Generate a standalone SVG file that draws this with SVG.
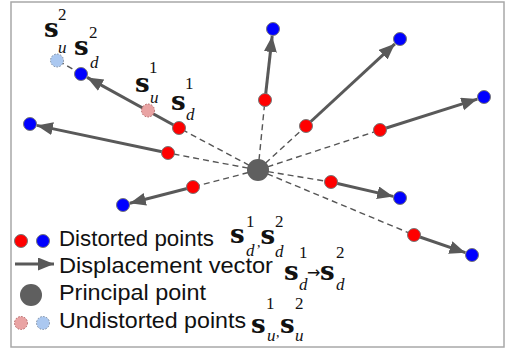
<svg xmlns="http://www.w3.org/2000/svg" width="508" height="352" viewBox="0 0 508 352">
<defs>
<marker id="ah" markerUnits="userSpaceOnUse" markerWidth="18" markerHeight="14" refX="16" refY="6.5" orient="auto">
<path d="M0,0 L16,6.5 L0,13 z" fill="#595959"/>
</marker>
<style>
.dash{stroke:#555;stroke-width:1.4;stroke-dasharray:6,4;fill:none}
.arr{stroke:#595959;stroke-width:3;fill:none;marker-end:url(#ah)}
.red{fill:#ff0000;stroke:#777;stroke-width:1}
.blue{fill:#0000ff;stroke:#777;stroke-width:1}
.pink{fill:#e9a3a3;stroke:#b06060;stroke-width:1;stroke-dasharray:1.5,1.5}
.lblue{fill:#abc8f0;stroke:#7a8aa0;stroke-width:1;stroke-dasharray:1.5,1.5}
.pp{fill:#5f5f5f}
.leg{font-family:"Liberation Sans",Arial,sans-serif;font-size:22.5px;fill:#111}
.s{font-family:"DejaVu Serif",serif;font-weight:bold;font-size:26px;fill:#111}
.n{font-family:"Liberation Serif",serif;font-size:17px;fill:#111}
.i{font-family:"Liberation Serif",serif;font-style:italic;font-size:17px;fill:#111}
.c{font-family:"Liberation Serif",serif;font-size:14px;fill:#111}
</style>
</defs>
<rect x="11" y="2" width="493" height="345" fill="#fff" stroke="#a8a8a8" stroke-width="1.5"/>
<g id="connectors">
<line class="dash" x1="258" y1="170" x2="179" y2="128"/>
<line class="dash" x1="258" y1="170" x2="168" y2="153"/>
<line class="dash" x1="258" y1="170" x2="265" y2="100"/>
<line class="dash" x1="258" y1="170" x2="306" y2="126"/>
<line class="dash" x1="258" y1="170" x2="380" y2="130"/>
<line class="dash" x1="258" y1="170" x2="193" y2="187"/>
<line class="dash" x1="258" y1="170" x2="331" y2="182"/>
<line class="dash" x1="258" y1="170" x2="414" y2="235"/>
<line class="dash" x1="81" y1="74" x2="57" y2="60"/>
<line class="arr" x1="179" y1="128" x2="87.1" y2="77.4"/>
<line class="arr" x1="168" y1="153" x2="36.9" y2="125.4"/>
<line class="arr" x1="265" y1="100" x2="272.2" y2="36"/>
<line class="arr" x1="306" y1="126" x2="394.9" y2="43.8"/>
<line class="arr" x1="380" y1="130" x2="477.3" y2="99.1"/>
<line class="arr" x1="193" y1="187" x2="129.8" y2="203.3"/>
<line class="arr" x1="331" y1="182" x2="393.2" y2="196.4"/>
<line class="arr" x1="414" y1="235" x2="465.4" y2="252.7"/>
</g>
<g id="principal"><circle class="pp" cx="258" cy="170" r="11"/></g>
<g id="p1">
<circle class="pink" cx="148" cy="110.5" r="6.5"/>
<circle class="lblue" cx="57" cy="60.5" r="6.5"/>
<circle class="red" cx="179" cy="128" r="6.5"/>
<circle class="blue" cx="81" cy="74" r="6.5"/>
</g>
<g id="p2"><circle class="red" cx="168" cy="153" r="6.5"/><circle class="blue" cx="30" cy="124" r="6.5"/></g>
<g id="p3"><circle class="red" cx="265" cy="100" r="6.5"/><circle class="blue" cx="273" cy="29" r="6.5"/></g>
<g id="p4"><circle class="red" cx="306" cy="126" r="6.5"/><circle class="blue" cx="400" cy="39" r="6.5"/></g>
<g id="p5"><circle class="red" cx="380" cy="130" r="6.5"/><circle class="blue" cx="484" cy="97" r="6.5"/></g>
<g id="p6"><circle class="red" cx="193" cy="187" r="6.5"/><circle class="blue" cx="123" cy="205" r="6.5"/></g>
<g id="p7"><circle class="red" cx="331" cy="182" r="6.5"/><circle class="blue" cx="400" cy="198" r="6.5"/></g>
<g id="p8"><circle class="red" cx="414" cy="235" r="6.5"/><circle class="blue" cx="472" cy="255" r="6.5"/></g>
<g id="labels">
<text class="s" x="44" y="37">s</text><text class="n" x="58" y="20">2</text><text class="i" x="58" y="53">u</text>
<text class="s" x="74" y="55">s</text><text class="n" x="89" y="38">2</text><text class="i" x="90" y="68">d</text>
<text class="s" x="135" y="92">s</text><text class="n" x="149" y="73">1</text><text class="i" x="150" y="103">u</text>
<text class="s" x="171" y="110">s</text><text class="n" x="185" y="89">1</text><text class="i" x="186" y="120">d</text>
</g>
<g id="legend">
<circle class="red" cx="21" cy="241" r="6.5"/><circle class="blue" cx="43" cy="241" r="6.5"/>
<text class="leg" x="59" y="246" textLength="155" lengthAdjust="spacingAndGlyphs">Distorted points</text>
<text class="s" x="230" y="243">s</text><text class="n" x="246" y="227">1</text><text class="i" x="246" y="256">d</text>
<text class="c" x="257" y="247">,</text>
<text class="s" x="260.5" y="244">s</text><text class="n" x="275" y="227">2</text><text class="i" x="275" y="257">d</text>
<line class="arr" x1="15" y1="264" x2="54" y2="264"/>
<text class="leg" x="59" y="272.5" textLength="214" lengthAdjust="spacingAndGlyphs">Displacement vector</text>
<text class="s" x="284" y="280">s</text><text class="n" x="299" y="258">1</text><text class="i" x="299" y="290">d</text>
<text style="font-family:'DejaVu Sans',sans-serif;font-size:16px;fill:#111" x="307" y="278">→</text>
<text class="s" x="320" y="280">s</text><text class="n" x="336" y="258">2</text><text class="i" x="336" y="290">d</text>
<circle class="pp" cx="31" cy="295" r="11"/>
<text class="leg" x="59" y="299.5" textLength="147" lengthAdjust="spacingAndGlyphs">Principal point</text>
<circle class="pink" cx="21" cy="323" r="6.5"/><circle class="lblue" cx="43" cy="323" r="6.5"/>
<text class="leg" x="59" y="328" textLength="187" lengthAdjust="spacingAndGlyphs">Undistorted points</text>
<text class="s" x="251" y="333">s</text><text class="n" x="266" y="309">1</text><text class="i" x="267" y="341">u</text>
<text class="c" x="276" y="337">,</text>
<text class="s" x="280" y="333">s</text><text class="n" x="295" y="309">2</text><text class="i" x="295" y="341">u</text>
</g>
</svg>
